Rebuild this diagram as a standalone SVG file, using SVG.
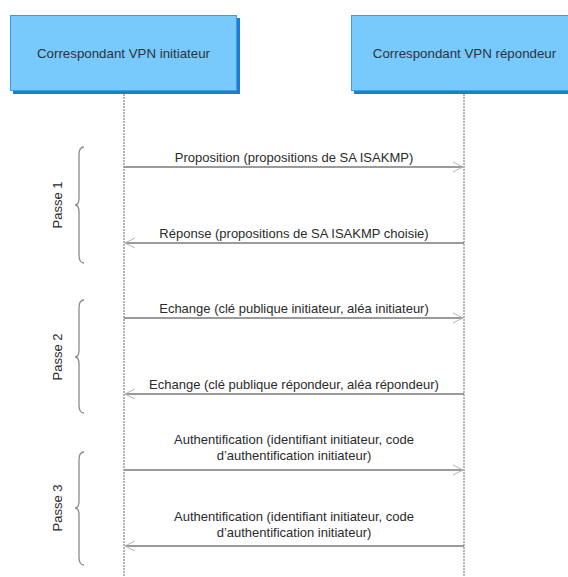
<svg xmlns="http://www.w3.org/2000/svg" width="568" height="577" viewBox="0 0 568 577">
  <style>
    .box { fill: #78c9fc; stroke: #3d9ce0; stroke-width: 1; }
    .shadow { fill: #1b7fd2; }
    .head { font-family: "Liberation Sans", Arial, sans-serif; font-size: 13.3px; fill: #2a3440; text-anchor: middle; }
    .life { stroke: #6a6a6a; stroke-width: 1; stroke-dasharray: 2 1; fill: none; }
    .msg { stroke: #7a7a7a; stroke-width: 1.4; fill: none; }
    .lbl { font-family: "Liberation Sans", Arial, sans-serif; font-size: 13px; fill: #2b2b2b; text-anchor: middle; }
    .brace { stroke: #8a8a8a; stroke-width: 1.3; fill: none; }
  </style>
  <defs>
    <marker id="open" viewBox="0 0 12 12" refX="11" refY="6" markerWidth="12" markerHeight="12" markerUnits="userSpaceOnUse" orient="auto-start-reverse">
      <path d="M1,1 L11,6 L1,11" fill="none" stroke="#b5b5b5" stroke-width="1"/>
    </marker>
  </defs>
  <rect width="568" height="577" fill="#ffffff"/>

  <!-- participants -->
  <g id="initiateur">
    <rect class="shadow" x="13" y="18" width="227" height="76"/>
    <rect class="box" x="10.5" y="15.5" width="226" height="75"/>
    <text class="head" x="123.5" y="58">Correspondant VPN initiateur</text>
  </g>
  <g id="repondeur">
    <rect class="shadow" x="354" y="18" width="227" height="76"/>
    <rect class="box" x="351.5" y="15.5" width="226" height="75"/>
    <text class="head" x="464.5" y="58">Correspondant VPN répondeur</text>
  </g>

  <!-- lifelines -->
  <g id="lifelines">
    <line class="life" x1="124" y1="91" x2="124" y2="577"/>
    <line class="life" x1="464" y1="91" x2="464" y2="577"/>
  </g>

  <!-- messages -->
  <g id="connectors">
    <line class="msg" x1="124" y1="167" x2="463" y2="167" marker-end="url(#open)"/>
    <line class="msg" x1="464" y1="243" x2="125" y2="243" marker-end="url(#open)"/>
    <line class="msg" x1="124" y1="318" x2="463" y2="318" marker-end="url(#open)"/>
    <line class="msg" x1="464" y1="394" x2="125" y2="394" marker-end="url(#open)"/>
    <line class="msg" x1="124" y1="470" x2="463" y2="470" marker-end="url(#open)"/>
    <line class="msg" x1="464" y1="546" x2="125" y2="546" marker-end="url(#open)"/>
  </g>

  <g id="labels">
    <text class="lbl" x="294" y="162">Proposition (propositions de SA ISAKMP)</text>
    <text class="lbl" x="294" y="238">Réponse (propositions de SA ISAKMP choisie)</text>
    <text class="lbl" x="294" y="313">Echange (clé publique initiateur, aléa initiateur)</text>
    <text class="lbl" x="294" y="389">Echange (clé publique répondeur, aléa répondeur)</text>
    <text class="lbl" x="294" y="444">Authentification (identifiant initiateur, code</text>
    <text class="lbl" x="294" y="460">d’authentification initiateur)</text>
    <text class="lbl" x="294" y="521">Authentification (identifiant initiateur, code</text>
    <text class="lbl" x="294" y="537">d’authentification initiateur)</text>
  </g>

  <!-- phases -->
  <g id="passe1">
    <path class="brace" d="M84,147 Q79,147 79,155 L79,198 Q79,205 75,205 Q79,205 79,212 L79,255 Q79,263 84,263"/>
    <text class="lbl" transform="translate(62,205) rotate(-90)">Passe 1</text>
  </g>
  <g id="passe2">
    <path class="brace" d="M84,300 Q79,300 79,308 L79,350 Q79,357 75,357 Q79,357 79,364 L79,405 Q79,413 84,413"/>
    <text class="lbl" transform="translate(62,357) rotate(-90)">Passe 2</text>
  </g>
  <g id="passe3">
    <path class="brace" d="M84,452 Q79,452 79,460 L79,501 Q79,508 75,508 Q79,508 79,515 L79,557 Q79,565 84,565"/>
    <text class="lbl" transform="translate(62,508) rotate(-90)">Passe 3</text>
  </g>
</svg>
